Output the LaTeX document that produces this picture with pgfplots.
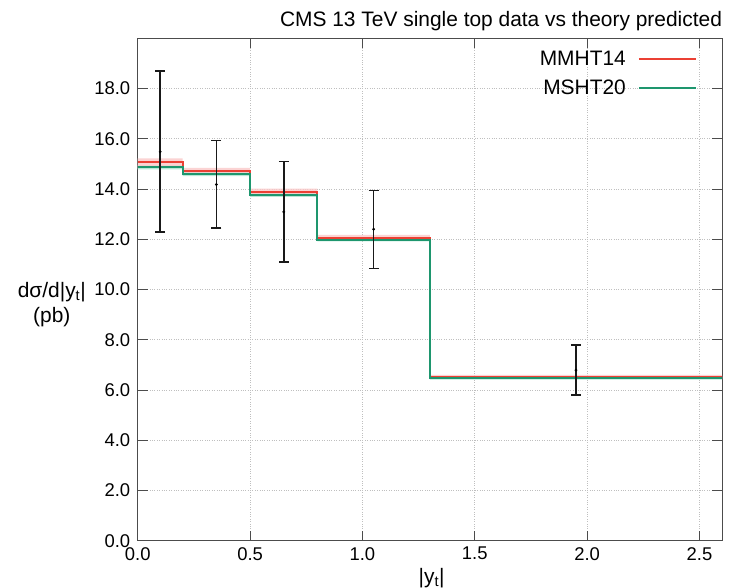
\documentclass[border=0pt]{standalone}
\usepackage{pgfplots}
\pgfplotsset{compat=1.18}
\usepackage{fontspec}
\setmainfont{Liberation Sans}
\definecolor{mred}{RGB}{235,64,52}
\definecolor{mgreen}{RGB}{30,150,110}
\definecolor{mredband}{RGB}{250,200,200}
\definecolor{mgreenband}{RGB}{185,232,215}
\begin{document}
\begin{tikzpicture}
\useasboundingbox (-137.7bp,-47.3bp) rectangle (591.3bp,540.7bp);
\begin{axis}[
  scale only axis,
  width=584.3bp, height=502.4bp,
  xmin=0, xmax=2.6, ymin=0, ymax=20,
  xtick={0,0.5,1,1.5,2,2.5},
  ytick={0,2,4,6,8,10,12,14,16,18},
  /pgf/number format/assume math mode=true,
  xticklabel style={yshift=-3bp, /pgf/number format/.cd, fixed, fixed zerofill, precision=1},
  yticklabel style={xshift=-4bp, /pgf/number format/.cd, fixed, fixed zerofill, precision=1},
  tick label style={font=\fontsize{18.5}{22}\selectfont},
  tick align=inside,
  major tick length=10bp,
  tick style={gray!60!black, line width=0.8bp},
  axis line style={gray!60!black, line width=1bp},
  grid=major,
  major grid style={dotted, gray!50, line width=0.6bp},
  title={CMS 13 TeV single top data vs theory predicted},
  every axis title/.style={at={(axis description cs:1.006,1)}, anchor=base east, yshift=12bp, font=\fontsize{21}{25}\selectfont},
  xlabel={|y\textsubscript{t}|},
  every axis x label/.style={at={(axis description cs:0.503,-0.074)}, anchor=center, font=\fontsize{21}{25}\selectfont},
  ylabel={dσ/d|y\textsubscript{t}|\\(pb)},
  every axis y label/.style={at={(axis description cs:-0.147,0.47)}, anchor=center, align=center, font=\fontsize{21}{25}\selectfont},
  legend style={draw=none, fill=none, at={(axis description cs:1,1)}, anchor=north east, xshift=-22bp, yshift=-9bp, font=\fontsize{21}{25}\selectfont, row sep=9bp, column sep=10bp, legend cell align=right},
  legend plot pos=right,
  legend image code/.code={\draw[#1] (0bp,0bp) -- (57bp,0bp);},
]
% bands
\addplot[fill=mgreenband, draw=none, forget plot] coordinates {
(0,14.94)(0.2,14.94)(0.2,14.67)(0.5,14.67)(0.5,13.85)(0.8,13.85)(0.8,12.06)(1.3,12.06)(1.3,6.53)(2.6,6.53)
(2.6,6.41)(1.3,6.41)(1.3,11.92)(0.8,11.92)(0.8,13.69)(0.5,13.69)(0.5,14.51)(0.2,14.51)(0.2,14.78)(0,14.78)} -- cycle;
\addplot[fill=mredband, fill opacity=0.8, draw=none, forget plot] coordinates {
(0,15.22)(0.2,15.22)(0.2,14.84)(0.5,14.84)(0.5,14.02)(0.8,14.02)(0.8,12.17)(1.3,12.17)(1.3,6.60)(2.6,6.60)
(2.6,6.46)(1.3,6.46)(1.3,11.99)(0.8,11.99)(0.8,13.80)(0.5,13.80)(0.5,14.60)(0.2,14.60)(0.2,14.92)(0,14.92)} -- cycle;
% lines
\addplot[const plot, mred, line width=2bp] coordinates {
(0,15.06)(0.2,14.71)(0.5,13.90)(0.8,12.07)(1.3,6.53)(2.6,6.53)};
\addlegendentry{MMHT14}
\addplot[const plot, mgreen, line width=2bp] coordinates {
(0,14.86)(0.2,14.59)(0.5,13.77)(0.8,11.99)(1.3,6.47)(2.6,6.47)};
\addlegendentry{MSHT20}
% data
\addplot[only marks, mark=*, mark size=1.2bp, black, forget plot,
  error bars/.cd, y dir=both, y explicit,
  error bar style={line width=1.6bp, black!90},
  error mark options={rotate=90, mark size=5bp, line width=1.6bp, black!90}]
  coordinates {
(0.10,15.48) +- (0,3.22) -= (0,3.20)
(0.35,14.18) +- (0,1.75) -= (0,1.74)
(0.65,13.09) +- (0,2.01) -= (0,2.00)
(1.05,12.40) +- (0,1.54) -= (0,1.56)
(1.95,6.79) +- (0,0.99) -= (0,0.99)
};
\end{axis}
\end{tikzpicture}
\end{document}
